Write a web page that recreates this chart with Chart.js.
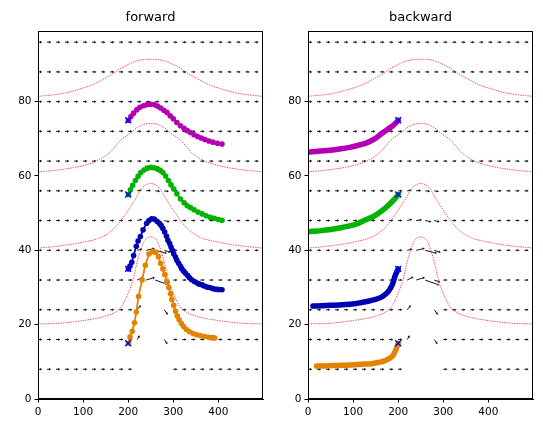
<!DOCTYPE html>
<html>
<head>
<meta charset="utf-8">
<script src="https://cdn.jsdelivr.net/npm/chart.js@4.4.1/dist/chart.umd.min.js"></script>
<style>
  html, body { margin: 0; padding: 0; background: #ffffff; }
  #wrap { position: relative; width: 543px; height: 433px; overflow: hidden; background: #fff; }
  canvas { position: absolute; top: 0; }
  #c1 { left: 0px; }
  #c2 { left: 270px; }
</style>
</head>
<body>
<div id="wrap">
  <canvas id="c1" width="271" height="433"></canvas>
  <canvas id="c2" width="273" height="433"></canvas>
</div>
<script>
// ---------------- data ----------------
const panelTitles = ["forward", "backward"];
const xTicks = [0, 100, 200, 300, 400];
const yTicks = [0, 20, 40, 60, 80];
const xMax = 499;
const yMax = 99;

// quiver grid (tails) and default vector
const quiverCols = [0, 20, 40, 60, 80, 100, 120, 140, 160, 180, 200, 220, 240, 260, 280, 300, 320, 340, 360, 380, 400, 420, 440, 460, 480];
const quiverRows = [8, 16, 24, 32, 40, 48, 56, 64, 72, 80, 88, 96];
const quiverDefaultU = 7;
const quiverDefaultV = 0;
// [row, col, u, v]; u = v = 0 means no arrow shown
const quiverOverrides = [
  [8, 200, 6, 0], [8, 220, 0, 0], [8, 240, 0, 0], [8, 260, 0, 0], [8, 280, 0, 0],
  [16, 220, 4.5, 0.9], [16, 240, 0, 0], [16, 260, 0, 0], [16, 280, 6, -1.05],
  [24, 220, 7, 1.05], [24, 240, 0, 0], [24, 260, 0, 0], [24, 280, 7, -1.15],
  [32, 220, 12.5, 0.8], [32, 240, 18.5, 0.7], [32, 260, 32, -1.4], [32, 280, 12, -0.5],
  [40, 220, 10, 0.3], [40, 240, 18, 0.5], [40, 260, 26, -0.8], [40, 280, 13, -0.5],
  [48, 220, 9, 0.3], [48, 240, 11, 0.2], [48, 260, 12, -0.3], [48, 280, 10, -0.3],
  [56, 220, 8, 0.15], [56, 240, 8.5, 0.1], [56, 260, 8.5, -0.1], [56, 280, 8, -0.15]
];

// red dotted reference curves
const bump1X = [0, 50, 100, 130, 150, 170, 185, 200, 210, 220, 235, 250, 265, 280, 290, 300, 315, 330, 350, 370, 400, 450, 499];
const bump1Y = [20.2, 20.4, 21.1, 21.7, 22.3, 23.3, 24.8, 28.5, 31.7, 36.9, 42.3, 43.6, 42.3, 36.9, 31.7, 28.5, 24.8, 23.3, 22.3, 21.7, 21.1, 20.4, 20.2];
const bump2X = [0, 50, 100, 140, 170, 185, 200, 215, 230, 250, 270, 285, 300, 315, 330, 360, 400, 450, 499];
const bump2Y = [40.6, 41.2, 42.2, 43.5, 46.0, 48.2, 50.8, 53.6, 56.6, 58.0, 56.6, 53.6, 50.8, 48.2, 46.0, 43.5, 42.2, 41.2, 40.6];
const bump3X = [0, 50, 100, 130, 160, 185, 205, 220, 235, 250, 265, 280, 295, 315, 340, 370, 400, 450, 499];
const bump3Y = [61.1, 61.7, 62.8, 64.0, 66.4, 69.8, 71.5, 73.0, 73.9, 74.1, 73.9, 73.0, 71.5, 69.8, 66.4, 64.0, 62.8, 61.7, 61.1];
const bump4X = [0, 50, 73, 93, 120, 147, 168, 184, 204, 220, 250, 280, 296, 316, 332, 353, 380, 407, 427, 450, 499];
const bump4Y = [81.4, 82.1, 82.7, 83.4, 84.5, 86.2, 87.6, 89.0, 90.2, 91.0, 91.4, 91.0, 90.2, 89.0, 87.6, 86.2, 84.5, 83.4, 82.7, 82.1, 81.4];

// start points (blue x)
const startX = [200, 200, 200, 200];
const startY = [15, 35, 55, 75];

// forward trajectories
const fwdOrangeX = [200.5, 204, 209, 214, 218, 223, 231, 238, 246, 254, 261, 267, 272, 277, 281, 286, 290, 294, 297, 301, 305, 309, 313, 318, 323, 329, 336, 344, 352, 361, 370, 379, 387, 392];
const fwdOrangeY = [15, 16.7, 18.2, 20.5, 23.4, 27.6, 32, 36, 39, 39.7, 39.5, 38.3, 36.5, 35, 33.5, 31.5, 30, 28.3, 26.8, 25.2, 23.6, 22.3, 21.3, 20.3, 19.5, 18.7, 18.1, 17.6, 17.3, 17, 16.8, 16.6, 16.5, 16.4];
const fwdBlueX = [200.5, 204, 208, 212, 218, 222, 227, 233, 241, 246, 252, 258, 264, 269, 273, 277, 281, 285, 288, 292, 295, 298, 301, 305, 308, 312, 316, 319, 323, 327, 332, 336, 341, 347, 353, 358, 364, 369, 375, 380, 386, 391, 397, 402, 408];
const fwdBlueY = [35, 35.8, 36.8, 38.6, 41.1, 42.5, 43.7, 45.5, 47.3, 48, 48.5, 48.4, 47.8, 47.3, 46.7, 45.9, 44.9, 43.8, 42.7, 41.8, 40.9, 40, 39.1, 38.2, 37.3, 36.5, 35.7, 35, 34.4, 33.8, 33.2, 32.6, 32.1, 31.6, 31.2, 30.9, 30.7, 30.4, 30.1, 30, 29.8, 29.6, 29.5, 29.45, 29.4];
const fwdGreenX = [200.5, 205, 210, 216, 222, 228, 235, 242, 250, 258, 265, 271, 277, 283, 289, 295, 301, 308, 316, 324, 331, 338, 346, 355, 364, 373, 382, 391, 400, 408];
const fwdGreenY = [55, 56.3, 57.5, 58.8, 59.9, 60.9, 61.6, 62.1, 62.3, 62.2, 61.9, 61.5, 60.9, 60, 58.8, 57.6, 56.5, 55.2, 53.8, 52.8, 52, 51.5, 50.9, 50.3, 49.8, 49.3, 48.9, 48.6, 48.3, 48.1];
const fwdPurpleX = [200.5, 206, 212, 219, 226, 234, 242, 250, 258, 265, 272, 279, 286, 293, 300, 308, 316, 324, 331, 338, 346, 354, 362, 370, 379, 388, 398, 408];
const fwdPurpleY = [75, 76, 76.9, 77.8, 78.5, 78.9, 79.2, 79.3, 79.2, 78.8, 78.3, 77.7, 77.1, 76.2, 75.4, 74.4, 73.5, 72.8, 72.2, 71.7, 71.1, 70.6, 70.2, 69.8, 69.4, 69.1, 68.8, 68.6];

// backward trajectories
const bwdOrangeX = [200, 196, 189, 182, 174, 163, 152, 140, 125, 110, 93, 75, 56, 38, 19];
const bwdOrangeY = [15, 13.6, 11.8, 11.0, 10.5, 10.0, 9.75, 9.5, 9.4, 9.3, 9.15, 9.05, 9.0, 8.9, 8.85];
const bwdBlueX = [200, 197, 193, 188, 183, 177, 170, 163, 150, 133, 112, 93, 70, 50, 30, 11];
const bwdBlueY = [35, 34.2, 33.1, 31.1, 29.8, 28.8, 28.0, 27.4, 26.8, 26.3, 25.8, 25.5, 25.3, 25.2, 25.1, 25.0];
const bwdGreenX = [200, 195, 188, 180, 170, 160, 145, 128, 110, 90, 70, 50, 30, 10, 0];
const bwdGreenY = [55, 54.2, 53.3, 52.3, 51.2, 50.3, 49.1, 48.2, 47.2, 46.5, 46.0, 45.6, 45.3, 45.1, 45.0];
const bwdPurpleX = [200, 196, 188, 177, 162, 147, 130, 110, 92, 73, 55, 36, 18, 0];
const bwdPurpleY = [75, 74.4, 73.5, 72.6, 71.3, 69.9, 68.9, 68.2, 67.7, 67.3, 67.0, 66.8, 66.6, 66.4];

// ---------------- styles ----------------
const COL_ORANGE = '#e38200';
const COL_BLUE = '#0000b4';
const COL_GREEN = '#00b400';
const COL_PURPLE = '#b400b4';
const FONT = "'DejaVu Sans', 'Liberation Sans', sans-serif";

function zip(xs, ys) { return xs.map((x, i) => ({ x: x, y: ys[i] })); }

function buildQuiver() {
  const shafts = [];
  const heads = [];
  for (const r of quiverRows) {
    for (const c of quiverCols) {
      let u = quiverDefaultU, v = quiverDefaultV;
      const o = quiverOverrides.find(q => q[0] === r && q[1] === c);
      if (o) { u = o[2]; v = o[3]; }
      if (u === 0 && v === 0) continue;
      shafts.push({ x: c, y: r }, { x: c + u * 0.8, y: r + v * 0.8 }, { x: c + u, y: null });
      heads.push({ x: c + u * 0.88, y: r + v * 0.88, u: u, v: v });
    }
  }
  return { shafts, heads };
}

function bumpDatasets() {
  const pairs = [[bump1X, bump1Y], [bump2X, bump2Y], [bump3X, bump3Y], [bump4X, bump4Y]];
  return pairs.map(p => ({
    data: zip(p[0], p[1]),
    showLine: true,
    borderColor: 'rgba(255,20,20,0.95)',
    borderWidth: 0.8,
    borderDash: [1.4, 1.1],
    pointRadius: 0,
    cubicInterpolationMode: 'monotone',
    order: 5
  }));
}

function quiverDatasets() {
  const q = buildQuiver();
  return [
    {
      data: q.shafts,
      showLine: true,
      spanGaps: false,
      borderColor: '#111111',
      borderWidth: 1,
      pointRadius: 0,
      tension: 0,
      order: 6
    },
    {
      data: q.heads,
      showLine: false,
      pointStyle: 'triangle',
      pointRadius: 1.5,
      backgroundColor: '#111111',
      borderColor: '#111111',
      borderWidth: 0,
      pointRotation: (ctx) => {
        const ch = ctx.chart, raw = ctx.raw;
        if (!raw || !ch.scales || !ch.scales.x) return 90;
        const xs = ch.scales.x, ys = ch.scales.y;
        const dx = xs.getPixelForValue(raw.u) - xs.getPixelForValue(0);
        const dy = ys.getPixelForValue(raw.v) - ys.getPixelForValue(0);
        return Math.atan2(dy, dx) * 180 / Math.PI + 90;
      },
      order: 6
    }
  ];
}

function trajDataset(xs, ys, color, dense) {
  if (dense) {
    return {
      data: zip(xs, ys),
      showLine: true,
      borderColor: color,
      backgroundColor: color,
      borderWidth: 5.5,
      borderCapStyle: 'round',
      borderJoinStyle: 'round',
      pointRadius: 0,
      tension: 0.25,
      order: 1
    };
  }
  return {
    data: zip(xs, ys),
    showLine: true,
    borderColor: color,
    backgroundColor: color,
    borderWidth: 1.8,
    pointRadius: 2.8,
    pointBorderWidth: 0,
    pointBackgroundColor: color,
    tension: 0,
    order: 1
  };
}

function startDataset() {
  return {
    data: zip(startX, startY),
    showLine: false,
    pointStyle: 'crossRot',
    pointRadius: 4.2,
    pointBorderWidth: 1.4,
    borderColor: '#0000ff',
    backgroundColor: '#0000ff',
    order: 0
  };
}

const framePlugin = {
  id: 'frame',
  afterDatasetsDraw(chart) {
    const a = chart.chartArea, ctx = chart.ctx;
    ctx.save();
    ctx.strokeStyle = '#000';
    ctx.lineWidth = 1;
    ctx.strokeRect(Math.round(a.left) + 0.5, Math.round(a.top) + 0.5, Math.round(a.right - a.left) - 1, Math.round(a.bottom - a.top) - 1);
    ctx.restore();
  }
};

function makeChart(canvasId, title, trajSets, padRight) {
  const ds = [startDataset()].concat(trajSets, bumpDatasets(), quiverDatasets());
  return new Chart(document.getElementById(canvasId), {
    type: 'scatter',
    data: { datasets: ds },
    options: {
      responsive: false,
      animation: false,
      devicePixelRatio: 1,
      layout: { padding: { left: 0, right: padRight, top: 0, bottom: 0 } },
      plugins: {
        legend: { display: false },
        tooltip: { enabled: false },
        title: {
          display: true,
          fullSize: false,
          text: title,
          color: '#000',
          font: { family: FONT, size: 13, weight: 'normal', lineHeight: 1.2 },
          padding: { top: 9.5, bottom: 5.9 }
        }
      },
      scales: {
        x: {
          type: 'linear',
          min: 0,
          max: xMax,
          afterBuildTicks: (s) => { s.ticks = xTicks.map(v => ({ value: v })); },
          afterFit: (s) => { s.height = 34; },
          ticks: { color: '#000', font: { family: FONT, size: 10.5 }, padding: 3, maxRotation: 0, autoSkip: false },
          grid: { display: true, drawOnChartArea: false, drawTicks: true, tickLength: 3.5, tickColor: '#000', tickWidth: 1 },
          border: { display: true, color: '#000', width: 1 }
        },
        y: {
          type: 'linear',
          min: 0,
          max: yMax,
          afterBuildTicks: (s) => { s.ticks = yTicks.map(v => ({ value: v })); },
          afterFit: (s) => { s.width = 38; },
          ticks: { color: '#000', font: { family: FONT, size: 10.5 }, padding: 3, autoSkip: false },
          grid: { display: true, drawOnChartArea: false, drawTicks: true, tickLength: 3.5, tickColor: '#000', tickWidth: 1 },
          border: { display: true, color: '#000', width: 1 }
        }
      }
    },
    plugins: [framePlugin]
  });
}

makeChart('c1', panelTitles[0], [
  trajDataset(fwdOrangeX, fwdOrangeY, COL_ORANGE, false),
  trajDataset(fwdBlueX, fwdBlueY, COL_BLUE, false),
  trajDataset(fwdGreenX, fwdGreenY, COL_GREEN, false),
  trajDataset(fwdPurpleX, fwdPurpleY, COL_PURPLE, false)
], 8);

makeChart('c2', panelTitles[1], [
  trajDataset(bwdOrangeX, bwdOrangeY, COL_ORANGE, true),
  trajDataset(bwdBlueX, bwdBlueY, COL_BLUE, true),
  trajDataset(bwdGreenX, bwdGreenY, COL_GREEN, true),
  trajDataset(bwdPurpleX, bwdPurpleY, COL_PURPLE, true)
], 10);
</script>
</body>
</html>
